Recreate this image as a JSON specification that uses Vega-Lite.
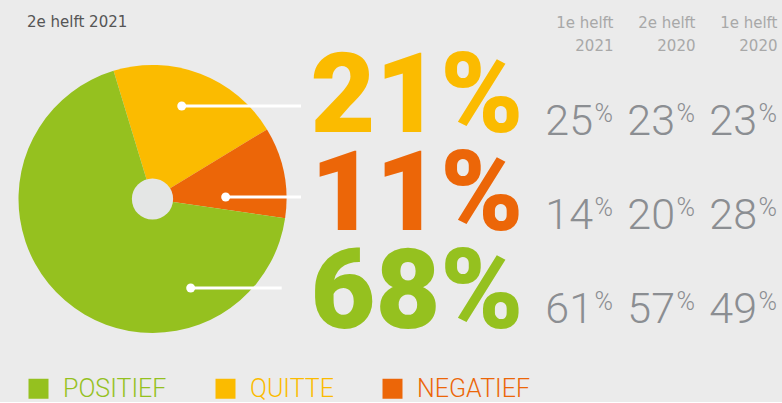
{
  "$schema": "https://vega.github.io/schema/vega-lite/v6.json",
  "background": "#ebebeb",
  "padding": {"left": 0, "top": 15, "right": 6, "bottom": 0},
  "bounds": "flush",
  "spacing": 94.5,
  "config": {"view": {"stroke": null}, "font": "Roboto", "axis": {"grid": false}},
  "datasets": {
    "current": [
      {"cat": "QUITTE", "share": 0.21},
      {"cat": "NEGATIEF", "share": 0.11},
      {"cat": "POSITIEF", "share": 0.68}
    ],
    "history": [
      {"period": "1e helft 2021", "cat": "QUITTE", "pct": 25},
      {"period": "2e helft 2020", "cat": "QUITTE", "pct": 23},
      {"period": "1e helft 2020", "cat": "QUITTE", "pct": 23},
      {"period": "1e helft 2021", "cat": "NEGATIEF", "pct": 14},
      {"period": "2e helft 2020", "cat": "NEGATIEF", "pct": 20},
      {"period": "1e helft 2020", "cat": "NEGATIEF", "pct": 28},
      {"period": "1e helft 2021", "cat": "POSITIEF", "pct": 61},
      {"period": "2e helft 2020", "cat": "POSITIEF", "pct": 57},
      {"period": "1e helft 2020", "cat": "POSITIEF", "pct": 49}
    ],
    "leaders": [
      {"cat": "QUITTE", "from": 0.218, "to": 1.108},
      {"cat": "NEGATIEF", "from": 0.546, "to": 1.108},
      {"cat": "POSITIEF", "from": 0.285, "to": 0.964}
    ]
  },
  "resolve": {"scale": {"x": "independent", "y": "independent"}},
  "hconcat": [
    {
      "width": 305,
      "height": 268,
      "title": {"text": "2e helft 2021", "anchor": "start", "frame": "group", "orient": "top", "dx": 27, "offset": 23, "baseline": "alphabetic", "fontSize": 15, "fontWeight": 400, "font": "DejaVu Sans", "color": "#555555"},
      "layer": [
        {
          "data": {"name": "current"},
          "mark": {"type": "arc", "outerRadius": 134, "innerRadius": 0},
          "encoding": {
            "theta": {"field": "share", "type": "quantitative", "stack": true, "scale": {"range": [1.0245, 7.3077]}},
            "order": {"field": "cat", "type": "nominal", "sort": "ascending"},
            "color": {
              "field": "cat", "type": "nominal",
              "scale": {"domain": ["POSITIEF", "QUITTE", "NEGATIEF"], "range": ["#95c11f", "#fbbb00", "#ec6608"]},
              "legend": {
                "orient": "none", "legendX": 26, "legendY": 311, "direction": "horizontal", "columns": 3,
                "title": null, "symbolType": "square", "symbolSize": 400, "symbolStrokeWidth": 0, "symbolOpacity": 1,
                "labelFontSize": 25, "labelFont": "Roboto", "labelFontWeight": 300, "labelOffset": 12,
                "columnPadding": 46, "padding": 0,
                "labelColor": {"expr": "datum.value === 'POSITIEF' ? '#95c11f' : datum.value === 'QUITTE' ? '#fbbb00' : '#ec6608'"}
              }
            }
          }
        },
        {
          "data": {"values": [{"part": "core"}]},
          "mark": {"type": "point", "shape": "circle", "filled": true, "size": 1700, "color": "#e4e6e5", "opacity": 1, "strokeWidth": 0},
          "encoding": {}
        },
        {
          "data": {"name": "leaders"},
          "mark": {"type": "rule", "color": "#ffffff", "strokeWidth": 3, "yOffset": -2},
          "encoding": {
            "x": {"field": "from", "type": "quantitative", "scale": {"domain": [-1.138, 1.138], "nice": false, "zero": false}, "axis": null},
            "x2": {"field": "to"},
            "y": {"field": "cat", "type": "nominal", "scale": {"type": "point", "domain": ["QUITTE", "NEGATIEF", "POSITIEF"], "padding": 0.4725}, "axis": null}
          }
        },
        {
          "data": {"name": "leaders"},
          "mark": {"type": "point", "shape": "circle", "filled": true, "size": 80, "color": "#ffffff", "opacity": 1, "strokeWidth": 0, "yOffset": -2},
          "encoding": {
            "x": {"field": "from", "type": "quantitative"},
            "y": {"field": "cat", "type": "nominal"}
          }
        }
      ]
    },
    {
      "width": 119,
      "height": 268,
      "data": {"name": "current"},
      "mark": {"type": "text", "align": "right", "baseline": "alphabetic", "dx": 5, "dy": 31, "fontSize": 112, "fontWeight": 900, "font": "Roboto"},
      "encoding": {
        "x": {"value": "width"},
        "y": {"field": "cat", "type": "nominal", "scale": {"type": "point", "domain": ["QUITTE", "NEGATIEF", "POSITIEF"], "padding": 0.374}, "axis": null},
        "color": {"field": "cat", "type": "nominal", "scale": {"domain": ["POSITIEF", "QUITTE", "NEGATIEF"], "range": ["#95c11f", "#fbbb00", "#ec6608"]}},
        "text": {"field": "share", "type": "quantitative", "format": ".0%"}
      }
    },
    {
      "width": 164,
      "height": 268,
      "data": {"name": "history"},
      "encoding": {
        "x": {
          "field": "period", "type": "nominal", "sort": ["1e helft 2021", "2e helft 2020", "1e helft 2020"],
          "scale": {"type": "point", "padding": 0},
          "axis": {"orient": "top", "title": null, "domain": false, "ticks": false, "tickSize": 0, "labelAngle": 0,
                   "labelAlign": "right", "labelBaseline": "bottom", "labelLineHeight": 23, "labelPadding": 35,
                   "labelFontSize": 15, "labelColor": "#a8a8a8", "labelFont": "DejaVu Sans", "labelOverlap": false, "labelBound": false,
                   "labelExpr": "[slice(datum.label, 0, 8), slice(datum.label, 9)]"}
        },
        "y": {"field": "cat", "type": "nominal", "scale": {"type": "point", "domain": ["QUITTE", "NEGATIEF", "POSITIEF"], "padding": 0.418}, "axis": null}
      },
      "layer": [
        {
          "mark": {"type": "text", "align": "right", "baseline": "alphabetic", "dx": -20, "dy": 30, "fontSize": 43, "fontWeight": 300, "font": "Roboto", "color": "#8b8e92"},
          "encoding": {"text": {"field": "pct", "type": "quantitative", "format": "d"}}
        },
        {
          "mark": {"type": "text", "align": "right", "baseline": "alphabetic", "dy": 17, "fontSize": 25, "fontWeight": 300, "font": "Roboto", "color": "#8b8e92"},
          "encoding": {"text": {"value": "%"}}
        }
      ]
    }
  ]
}
